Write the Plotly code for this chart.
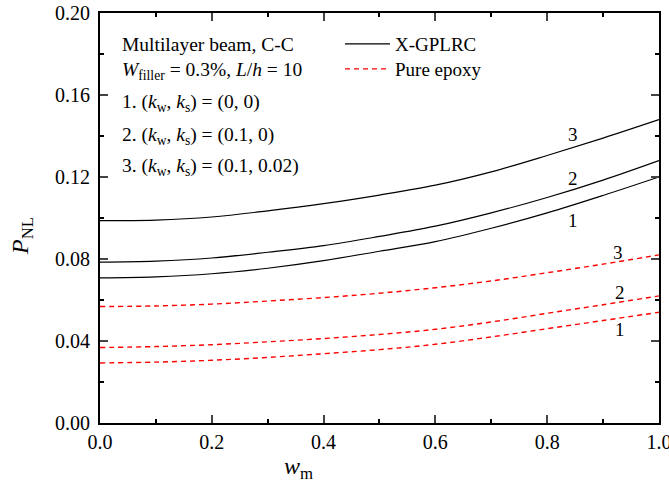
import plotly.graph_objects as go

w_m = [0.0, 0.1, 0.2, 0.3, 0.4, 0.5, 0.6, 0.7, 0.8, 0.9, 1.0]

xg_1 = [0.0708, 0.0713, 0.0728, 0.0755, 0.0792, 0.0838, 0.0885, 0.0950, 0.1025, 0.1110, 0.1200]
xg_2 = [0.0785, 0.0790, 0.0805, 0.0833, 0.0865, 0.0910, 0.0960, 0.1025, 0.1100, 0.1185, 0.1280]
xg_3 = [0.0987, 0.0990, 0.1005, 0.1035, 0.1070, 0.1112, 0.1160, 0.1225, 0.1305, 0.1390, 0.1480]

ep_1 = [0.0293, 0.0297, 0.0306, 0.0320, 0.0338, 0.0358, 0.0384, 0.0420, 0.0460, 0.0500, 0.0540]
ep_2 = [0.0368, 0.0373, 0.0382, 0.0396, 0.0412, 0.0432, 0.0457, 0.0493, 0.0535, 0.0577, 0.0620]
ep_3 = [0.0568, 0.0571, 0.0580, 0.0595, 0.0612, 0.0633, 0.0660, 0.0693, 0.0733, 0.0775, 0.0820]

x_ticks = [0.0, 0.2, 0.4, 0.6, 0.8, 1.0]
x_ticklabels = ["0.0", "0.2", "0.4", "0.6", "0.8", "1.0"]
y_ticks = [0.00, 0.04, 0.08, 0.12, 0.16, 0.20]
y_ticklabels = ["0.00", "0.04", "0.08", "0.12", "0.16", "0.20"]

curve_labels = ["1", "2", "3"]
xg_label_pos = [(0.846, 0.0990), (0.846, 0.1195), (0.846, 0.1405)]
ep_label_pos = [(0.930, 0.0454), (0.930, 0.0639), (0.927, 0.0830)]

info_lines = [
    "Multilayer beam, C-C",
    "<i>W</i><sub>filler</sub> = 0.3%, <i>L</i>/<i>h</i> = 10",
    "1. (<i>k</i><sub>w</sub>, <i>k</i><sub>s</sub>) = (0, 0)",
    "2. (<i>k</i><sub>w</sub>, <i>k</i><sub>s</sub>) = (0.1, 0)",
    "3. (<i>k</i><sub>w</sub>, <i>k</i><sub>s</sub>) = (0.1, 0.02)",
]

FONT = "Liberation Serif"
L, R, T, B = 100, 10, 13, 67
PW, PH = 669 - L - R, 490 - T - B


def px_x(px):
    return (px - L) / PW


def px_y(py):
    return (490 - B - py) / PH


fig = go.Figure()
for i, ys in enumerate([xg_1, xg_2, xg_3]):
    fig.add_trace(go.Scatter(x=w_m, y=ys, mode="lines", line=dict(color="black", width=1.2, shape="spline"),
                             name="X-GPLRC", showlegend=(i == 0), legend="legend"))
for i, ys in enumerate([ep_1, ep_2, ep_3]):
    fig.add_trace(go.Scatter(x=w_m, y=ys, mode="lines",
                             line=dict(color="red", width=1.4, dash="5px,4px", shape="spline"),
                             name="Pure epoxy", showlegend=(i == 0), legend="legend2"))

ann = []
for lab, (x, y) in zip(curve_labels, xg_label_pos):
    ann.append(dict(x=x, y=y, text=lab, showarrow=False, xref="x", yref="y", font=dict(size=19, family=FONT, color="black")))
for lab, (x, y) in zip(curve_labels, ep_label_pos):
    ann.append(dict(x=x, y=y, text=lab, showarrow=False, xref="x", yref="y", font=dict(size=19, family=FONT, color="black")))

info_y = [45, 71, 103, 136, 167]
for txt, py in zip(info_lines, info_y):
    ann.append(dict(x=px_x(120), y=px_y(py), xref="paper", yref="paper", text=txt, showarrow=False,
                    xanchor="left", yanchor="middle", font=dict(size=19.5, family=FONT, color="black")))

# axis titles
ann.append(dict(x=px_x(22), y=px_y(236), xref="paper", yref="paper", text="<i>P</i><sub>NL</sub>", showarrow=False,
                textangle=-90, xanchor="center", yanchor="middle", font=dict(size=24, family=FONT, color="black")))
ann.append(dict(x=px_x(298), y=px_y(468), xref="paper", yref="paper", text="<i>w</i><sub>m</sub>", showarrow=False,
                xanchor="center", yanchor="middle", font=dict(size=24, family=FONT, color="black")))

legend_common = dict(xanchor="left", yanchor="middle", bgcolor="rgba(0,0,0,0)",
                     font=dict(size=19, family=FONT, color="black"), itemwidth=45)

fig.update_layout(
    width=669, height=490,
    margin=dict(l=L, r=R, t=T, b=B, autoexpand=False),
    paper_bgcolor="white", plot_bgcolor="white",
    font=dict(family=FONT, size=19, color="black"),
    showlegend=True,
    legend=dict(x=px_x(340), y=px_y(44), **legend_common),
    legend2=dict(x=px_x(340), y=px_y(69), **legend_common),
    annotations=ann,
    xaxis=dict(range=[0, 1.0001], tickmode="array", tickvals=x_ticks, ticktext=x_ticklabels,
               showgrid=False, zeroline=False, automargin=False, ticklabeloverflow="allow",
               ticks="inside", ticklen=8, tickwidth=1.5, showline=True, linewidth=2, linecolor="black", mirror="ticks",
               minor=dict(dtick=0.1, tick0=0, ticks="inside", ticklen=4, tickwidth=1.5, tickcolor="black"),
               tickfont=dict(size=20, family=FONT)),
    yaxis=dict(range=[0, 0.20001], tickmode="array", tickvals=y_ticks, ticktext=y_ticklabels,
               showgrid=False, zeroline=False, automargin=False, ticklabeloverflow="allow",
               ticks="inside", ticklen=8, tickwidth=1.5, showline=True, linewidth=2, linecolor="black", mirror="ticks",
               minor=dict(dtick=0.02, tick0=0, ticks="inside", ticklen=4, tickwidth=1.5, tickcolor="black"),
               tickfont=dict(size=20, family=FONT), ticklabelstandoff=4),
)

fig.write_html("out.html", config={"displayModeBar": False},
               post_script="document.body.style.margin='0';document.body.style.padding='0';")
